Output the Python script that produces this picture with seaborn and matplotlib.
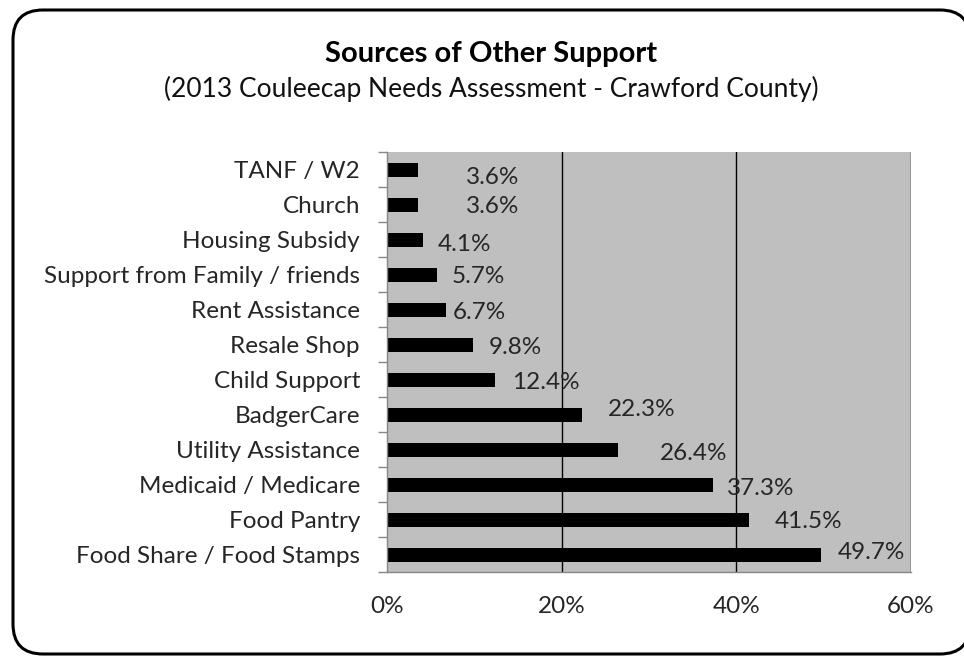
import matplotlib
matplotlib.use("Agg")
import matplotlib.pyplot as plt
from matplotlib.patches import FancyBboxPatch
import seaborn as sns
import pandas as pd

# Survey results: share of respondents receiving each kind of support (%)
categories = [
    "TANF / W2",
    "Church",
    "Housing Subsidy",
    "Support from Family / friends",
    "Rent Assistance",
    "Resale Shop",
    "Child Support",
    "BadgerCare",
    "Utility Assistance",
    "Medicaid / Medicare",
    "Food Pantry",
    "Food Share / Food Stamps",
]
percent = [3.6, 3.6, 4.1, 5.7, 6.7, 9.8, 12.4, 22.3, 26.4, 37.3, 41.5, 49.7]
x_ticks = [0, 20, 40, 60]
x_tick_labels = ["0%", "20%", "40%", "60%"]

# Where each value label sits (left edge in % units, vertical nudge in rows)
label_left = [9.05, 9.05, 5.85, 7.45, 7.55, 11.6, 14.3, 25.3, 31.3, 38.9, 44.4, 51.6]
label_nudge = [0.17, 0.0, 0.11, 0.0, 0.03, 0.03, 0.03, -0.2, 0.06, 0.06, 0.0, -0.1]

sns.set_theme(style="white")
plt.rcParams["font.family"] = ["Lato", "DejaVu Sans"]

TEXT = "#262626"
AXIS = "#868686"
FS = 17.5

df = pd.DataFrame({"category": categories, "percent": percent})

W, H = 964, 656
fig = plt.figure(figsize=(W / 100, H / 100), dpi=100)
fig.patch.set_facecolor("white")

ax = fig.add_axes([387 / W, 1 - 572 / H, (911 - 387) / W, (572 - 152) / H])
sns.barplot(data=df, y="category", x="percent", orient="h", color="black",
            width=0.4, ax=ax, saturation=1, order=categories,
            edgecolor="black", linewidth=0)

ax.set_facecolor("#BFBFBF")
ax.set_xlim(0, 60)
ax.set_ylim(len(categories) - 0.5, -0.5)
ax.set_xlabel("")
ax.set_ylabel("")

# vertical gridlines
for gx in x_ticks[1:]:
    ax.axvline(gx, color="black", linewidth=1.0, zorder=0.5)

for side in ["top", "right"]:
    ax.spines[side].set_visible(False)
for side in ["left", "bottom"]:
    ax.spines[side].set_color(AXIS)
    ax.spines[side].set_linewidth(1.0)

ax.set_xticks(x_ticks)
ax.set_xticklabels(x_tick_labels)
ax.tick_params(axis="x", direction="out", length=6.5, width=1.0,
               color=AXIS, pad=11, labelsize=FS, labelcolor=TEXT)

# category boundary ticks on the left axis
ax.set_yticks(range(len(categories)))
ax.set_yticks([i - 0.5 for i in range(len(categories) + 1)], minor=True)
ax.tick_params(axis="y", which="major", length=0, pad=19.5, labelsize=FS,
               labelcolor=TEXT)
ax.tick_params(axis="y", which="minor", direction="out", length=6.5,
               width=1.0, color=AXIS, left=True)

for i, v in enumerate(percent):
    ax.text(label_left[i], i + label_nudge[i] + 0.23, f"{v:.1f}%",
            ha="left", va="baseline", fontsize=FS, color=TEXT)

fig.text(491 / W, 1 - 62 / H, "Sources of Other Support", ha="center",
         va="baseline", fontsize=21, fontweight="bold", color="black")
fig.text(491 / W, 1 - 97 / H,
         "(2013 Couleecap Needs Assessment - Crawford County)",
         ha="center", va="baseline", fontsize=19, color="#111111")

# rounded outer frame
frame_ax = fig.add_axes([0, 0, 1, 1], zorder=-1)
frame_ax.set_xlim(0, W)
frame_ax.set_ylim(H, 0)
frame_ax.axis("off")
frame_ax.add_patch(FancyBboxPatch((13, 10), 957, 644,
                                  boxstyle="round,pad=0,rounding_size=30",
                                  linewidth=2.2, edgecolor="black",
                                  facecolor="white", clip_on=False))

fig.savefig("out.png", dpi=100)
